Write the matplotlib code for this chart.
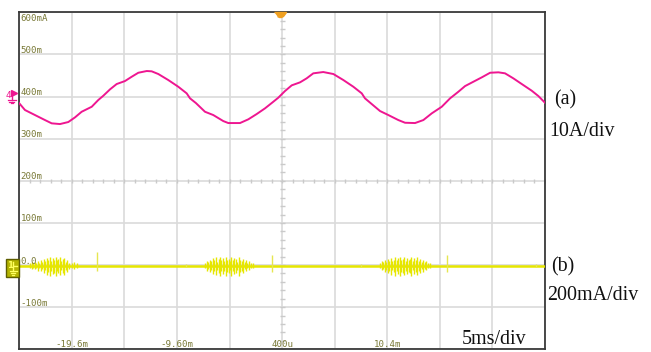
import numpy as np
import matplotlib
matplotlib.use("Agg")
import matplotlib.pyplot as plt
import matplotlib.transforms as mtransforms
from matplotlib.patches import Rectangle, Polygon
from matplotlib.lines import Line2D

# ---------------- data ----------------
# channel 4 (pink) : time in ms, current in mA (scope scale)
pink_t = [-24.60, -24.06, -23.11, -22.16, -21.52, -20.73, -19.94, -19.30, -18.67, -17.71,
          -17.09, -16.61, -15.97, -15.34, -14.55, -13.91, -13.28, -12.48, -12.01, -11.38,
          -10.43, -9.48, -8.68, -8.36, -7.80, -6.94, -6.15, -5.20, -4.72, -3.61,
          -2.82, -2.02, -1.23, -0.44, 0.03, 0.67, 1.31, 2.10, 2.73, 3.36,
          4.31, 5.27, 6.22, 7.17, 7.97, 8.28, 8.92, 9.71, 10.50, 11.45,
          12.09, 13.04, 13.83, 14.63, 15.58, 16.37, 17.16, 17.80, 18.59, 19.39,
          20.18, 20.97, 21.60, 22.39, 23.19, 24.14, 24.77, 25.40]
pink_v = [383.9, 368.0, 356.1, 344.2, 336.4, 334.7, 339.5, 350.6, 363.9, 375.8,
          391.7, 401.9, 417.1, 429.7, 436.8, 447.0, 456.5, 460.6, 459.9, 453.5,
          439.2, 423.3, 407.6, 395.7, 384.5, 363.9, 356.1, 341.8, 337.1, 337.1,
          345.9, 358.5, 372.0, 387.7, 397.2, 413.1, 426.6, 433.7, 443.2, 455.1,
          458.2, 453.5, 439.2, 423.3, 407.6, 395.7, 382.2, 365.6, 356.1, 344.2,
          337.8, 337.1, 344.2, 360.1, 375.8, 395.7, 411.4, 424.9, 435.2, 445.6,
          456.5, 457.5, 455.1, 443.2, 429.7, 413.8, 401.2, 385.3]

# channel 1 (yellow) : baseline level and switching-noise bursts
yellow_t = [-24.60, 25.40]
yellow_v = [-1.5, -1.5]

burst_t = [
    # burst 1
    -23.55, -23.40, -23.27, -23.12, -22.98, -22.85, -22.70, -22.55, -22.42, -22.28,
    -22.13, -22.00, -21.85, -21.72, -21.58, -21.43, -21.30, -21.15, -21.02, -20.88,
    -20.73, -20.60, -20.45, -20.32, -20.18, -20.03, -19.88, -19.60, -19.40, -19.15,
    # burst 2
    -6.90, -6.76, -6.62, -6.48, -6.35, -6.20, -6.07, -5.93, -5.80, -5.65,
    -5.52, -5.38, -5.25, -5.10, -4.97, -4.83, -4.70, -4.55, -4.42, -4.28,
    -4.15, -4.00, -3.87, -3.73, -3.60, -3.45, -3.32, -3.18, -3.05, -2.90,
    -2.75, -2.55, -2.40,
    # burst 3
    9.75, 9.90, 10.03, 10.18, 10.32, 10.47, 10.60, 10.75, 10.88, 11.02,
    11.17, 11.30, 11.45, 11.58, 11.72, 11.87, 12.00, 12.15, 12.28, 12.42,
    12.57, 12.70, 12.85, 12.98, 13.12, 13.27, 13.40, 13.55, 13.68, 13.82,
    13.97, 14.12, 14.30, 14.45]
burst_hi = [
    5, 8, 4, 7, 6, 9, 5, 11, 7, 14, 9, 17, 12, 19, 10, 16, 13, 20, 11, 15,
    18, 9, 14, 17, 8, 12, 6, 5, 7, 4,
    6, 10, 8, 13, 9, 16, 11, 18, 8, 14, 19, 12, 17, 10, 20, 13, 15, 9, 18, 11,
    16, 14, 8, 19, 12, 10, 15, 7, 11, 6, 9, 5, 4,
    5, 9, 7, 12, 8, 15, 10, 17, 9, 13, 19, 11, 16, 20, 12, 14, 18, 10, 17, 13,
    15, 19, 9, 16, 12, 18, 10, 14, 8, 12, 7, 9, 5, 6]
burst_lo = [
    -7, -10, -6, -9, -8, -13, -7, -15, -10, -19, -12, -23, -16, -27, -14, -21, -18, -26, -15, -20,
    -24, -12, -19, -23, -11, -16, -9, -7, -9, -6,
    -8, -13, -10, -17, -12, -21, -14, -24, -11, -18, -26, -15, -22, -13, -27, -17, -20, -12, -25, -14,
    -21, -19, -11, -26, -16, -13, -20, -9, -15, -8, -12, -7, -6,
    -7, -12, -9, -16, -11, -20, -13, -23, -12, -17, -26, -14, -21, -27, -16, -19, -24, -13, -22, -17,
    -20, -25, -12, -21, -16, -24, -13, -19, -10, -16, -9, -12, -7, -8]

spike_t = [-17.18, -0.56, 16.11, -8.77, 7.87, 24.55]
spike_hi = [30, 24, 24, 2, 2, 2]
spike_lo = [-14, -16, -16, -4, -4, -4]

trigger_t = 0.2

x_tick_vals = [-19.6, -9.6, 0.4, 10.4]
x_tick_labels = ["-19.6m", "-9.60m", "400u", "10.4m"]
y_tick_vals = [600, 500, 400, 300, 200, 100, 0, -100]
y_tick_labels = ["600mA", "500m", "400m", "300m", "200m", "100m", "0.0", "-100m"]

# ---------------- figure ----------------
W, H = 651, 352
fig = plt.figure(figsize=(W / 100, H / 100), dpi=100)
fig.patch.set_facecolor("white")
ax = fig.add_axes([19.3 / W, 2.7 / H, 525.7 / W, 337.0 / H])
ax.set_xlim(-24.6, 25.4)
ax.set_ylim(-200, 600)

grid_c = "#dadada"
ax.set_xticks(np.arange(-24.6, 25.5, 5.0))
ax.set_yticks(np.arange(-200, 601, 100))
ax.tick_params(length=0, labelbottom=False, labelleft=False)
ax.grid(True, color=grid_c, lw=1.2, zorder=0)
ax.set_axisbelow(True)
for s in ax.spines.values():
    s.set_color("#3a3a3a")
    s.set_linewidth(1.3)

# minor ticks along the centre lines
ax.plot(np.arange(-24.6, 25.45, 1.0), np.full(51, 200.0), ls="none", marker="|",
        ms=3.2, mew=1.0, color="#cacaca", zorder=1)
ax.plot(np.full(41, 0.4), np.arange(-200, 601, 20), ls="none", marker="_",
        ms=3.6, mew=1.0, color="#cacaca", zorder=1)

# traces
ax.plot(yellow_t, yellow_v, color="#e6e600", lw=1.8, zorder=3, solid_capstyle="butt")
ax.vlines(burst_t, burst_lo, burst_hi, color="#e6e600", lw=1.0, zorder=3)
ax.vlines(spike_t, spike_lo, spike_hi, color="#e6e650", lw=1.0, zorder=3)
ax.plot(pink_t, pink_v, color="#ee1690", lw=1.4, zorder=4)

# trigger marker
trig_marker = [(-6, 0), (6, 0), (3, -4), (1, -5), (-1, -5), (-3, -4)]
ax.plot([trigger_t], [600], marker=trig_marker, ms=8.6, color="#f0a020",
        mec="#f0a020", clip_on=False, zorder=6)

# scope tick labels
lab_c = "#7a7a38"
mono = "DejaVu Sans Mono"
fs_lab = 6.6
bl = mtransforms.blended_transform_factory(ax.transAxes, ax.transData)
for v, s in zip(y_tick_vals, y_tick_labels):
    if v == 600:
        tr = mtransforms.offset_copy(bl, fig=fig, x=1.5, y=-2, units="dots")
        ax.text(0, v, s, transform=tr, ha="left", va="top", fontsize=fs_lab,
                family=mono, color=lab_c, zorder=5)
    else:
        tr = mtransforms.offset_copy(bl, fig=fig, x=1.5, y=1.5, units="dots")
        ax.text(0, v, s, transform=tr, ha="left", va="baseline", fontsize=fs_lab,
                family=mono, color=lab_c, zorder=5)
bx = mtransforms.blended_transform_factory(ax.transData, ax.transAxes)
trx = mtransforms.offset_copy(bx, fig=fig, x=0, y=2, units="dots")
for v, s in zip(x_tick_vals, x_tick_labels):
    ax.text(v, 0, s, transform=trx, ha="center", va="baseline", fontsize=fs_lab,
            family=mono, color=lab_c, zorder=5)

# annotations (serif)
serif = "Liberation Serif"
def ftext(x, y, s, **kw):
    fig.text(x / W, 1 - y / H, s, family=serif, fontsize=14.4, color="#111111",
             va="baseline", ha="left", **kw)

ftext(554, 104.5, "(a)")
ftext(549, 135.5, "10A/div")
ftext(551, 271.5, "(b)")
ftext(547, 300.5, "200mA/div")
ftext(461.5, 343.5, "5ms/div")

# channel markers (pink ch4)
pk = "#ee1690"
fig.text(5.5 / W, 1 - 97.5 / H, "4", fontsize=6.5, color=pk, family="DejaVu Sans",
         va="baseline", ha="left")
fig.add_artist(Polygon([[11.5 / W, 1 - 90.5 / H], [11.5 / W, 1 - 96.5 / H],
                        [17.5 / W, 1 - 93.5 / H]], closed=True, color=pk,
                       transform=fig.transFigure))
fig.add_artist(Line2D([11.5 / W, 11.5 / W], [1 - 93 / H, 1 - 99.5 / H], color=pk, lw=1))
for yy, hw in [(99.5, 4), (101.5, 2.5), (103.5, 1)]:
    fig.add_artist(Line2D([(11.5 - hw) / W, (11.5 + hw) / W], [1 - yy / H, 1 - yy / H],
                          color=pk, lw=0.9))

# channel marker (yellow ch1)
fig.add_artist(Rectangle((5.5 / W, 1 - 277 / H), 13 / W, 18.5 / H, facecolor="#b4b400",
                         edgecolor="#5e5e00", lw=1.0, transform=fig.transFigure))
yc = "#ffff60"
fig.text(7.5 / W, 1 - 267.5 / H, "1", fontsize=6, color=yc, family="DejaVu Sans",
         va="baseline", ha="left", fontweight="bold")
fig.add_artist(Line2D([13 / W, 13 / W], [1 - 262 / H, 1 - 270.5 / H], color=yc, lw=1))
fig.add_artist(Line2D([13 / W, 17 / W], [1 - 265.5 / H, 1 - 265.5 / H], color=yc, lw=1))
for yy, hw in [(270.5, 3.5), (272.5, 2.2), (274.5, 1)]:
    fig.add_artist(Line2D([(13 - hw) / W, (13 + hw) / W], [1 - yy / H, 1 - yy / H],
                          color=yc, lw=0.9))

fig.savefig("out.png", dpi=100, facecolor="white")
